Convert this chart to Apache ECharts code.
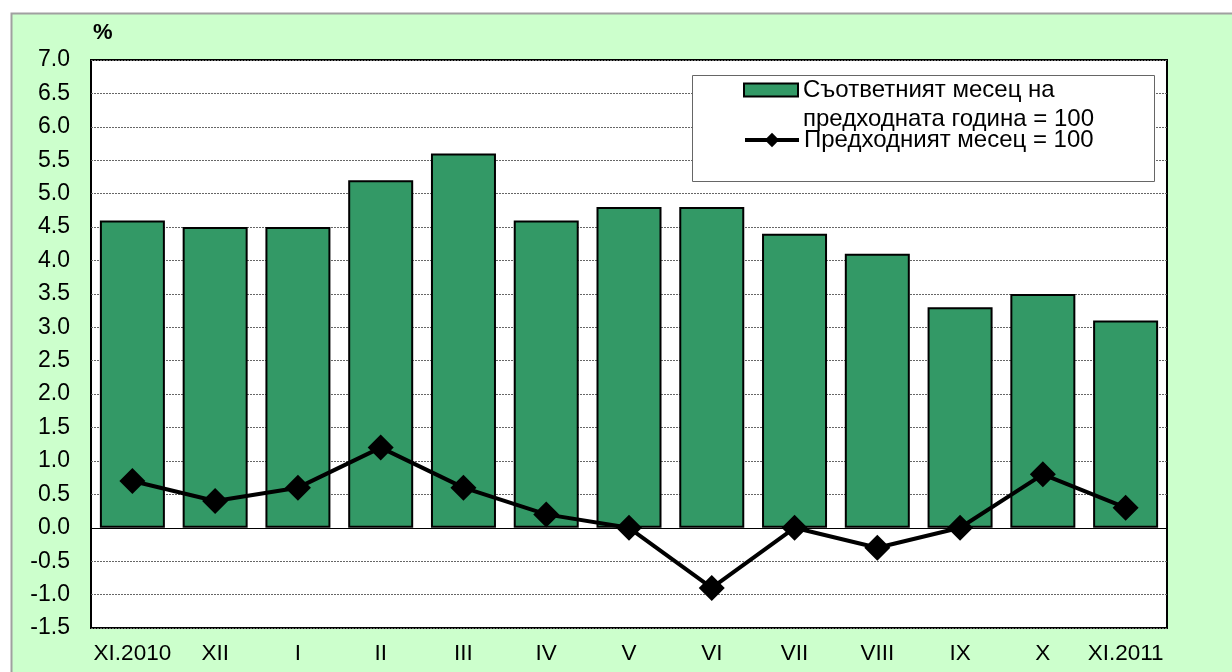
<!DOCTYPE html>
<html>
<head>
<meta charset="utf-8">
<script src="https://cdn.jsdelivr.net/npm/echarts@6/dist/echarts.min.js"></script>
<style>
html,body{margin:0;padding:0;background:#fff;}
#c{width:1232px;height:672px;}
</style>
</head>
<body>
<div id="c"></div>
<script>
const categories = ['XI.2010','XII','I','II','III','IV','V','VI','VII','VIII','IX','X','XI.2011'];
const yearOnYear = [4.6,4.5,4.5,5.2,5.6,4.6,4.8,4.8,4.4,4.1,3.3,3.5,3.1];
const monthOnMonth = [0.7,0.4,0.6,1.2,0.6,0.2,0.0,-0.9,0.0,-0.3,0.0,0.8,0.3];
const barName = 'Съответният месец на';
const barName2 = 'предходната година = 100';
const lineName = 'Предходният месец = 100';

const FONT = 'Liberation Sans, Arial, sans-serif';
const chart = echarts.init(document.getElementById('c'), null, {renderer:'canvas'});
chart.setOption({
  backgroundColor: '#ffffff',
  animation: false,
  textStyle: {fontFamily: FONT},
  graphic: [
    {type:'rect', z:-10, shape:{x:11.5,y:13.5,width:1240,height:700},
     style:{fill:'#ccffcc', stroke:'#a0a0a0', lineWidth:2}},
    {type:'rect', z:50, shape:{x:692.5,y:75.5,width:462,height:106},
     style:{fill:'#ffffff', stroke:'#666666', lineWidth:1}},
    {type:'text', z:60, left:803, top:107,
     style:{text:barName2, fontSize:24, fontFamily:FONT, fill:'#000'}}
  ],
  grid: {left:91, top:60, right:65, bottom:44, show:true, backgroundColor:'#ffffff',
         borderColor:'#000', borderWidth:2, containLabel:false},
  legend: [
    {data:[{name:barName, icon:'rect'}], left:743, top:78, padding:0, itemWidth:54, itemHeight:13,
     itemGap:4, z:70, itemStyle:{borderColor:'#000', borderWidth:2},
     textStyle:{fontSize:24, fontFamily:FONT, color:'#000'}},
    {data:[lineName], left:743, top:128, padding:0, itemWidth:54, itemHeight:18,
     itemGap:4, z:70, lineStyle:{width:4, color:'#000'},
     textStyle:{fontSize:24, fontFamily:FONT, color:'#000'}}
  ],
  xAxis: {
    type:'category', data:categories,
    axisLine:{onZero:false, show:false},
    axisTick:{show:false},
    axisLabel:{fontSize:22.5, color:'#000', fontFamily:FONT, margin:14, interval:0}
  },
  yAxis: {
    type:'value', min:-1.5, max:7.0, interval:0.5,
    name:'%', nameGap:16,
    nameTextStyle:{fontSize:22, fontWeight:'bold', color:'#000', align:'left', fontFamily:FONT, padding:[0,0,0,2]},
    axisLine:{show:false}, axisTick:{show:false},
    axisLabel:{fontSize:23, color:'#000', fontFamily:FONT, margin:21,
               formatter:v=>v.toFixed(1)},
    splitLine:{show:true, lineStyle:{color:'#666', width:1, type:[2,1]}}
  },
  series: [
    {name:barName, type:'bar', data:yearOnYear, barWidth:65,
     itemStyle:{color:'#339966', borderColor:'#000', borderWidth:2},
     markLine:{silent:true, symbol:'none', label:{show:false},
       lineStyle:{color:'#000', width:1, type:'solid'}, data:[{yAxis:0}]}},
    {name:lineName, type:'line', data:monthOnMonth, symbol:'diamond', symbolSize:26,
     itemStyle:{color:'#000'}, lineStyle:{color:'#000', width:4}, z:10}
  ]
});
</script>
</body>
</html>
